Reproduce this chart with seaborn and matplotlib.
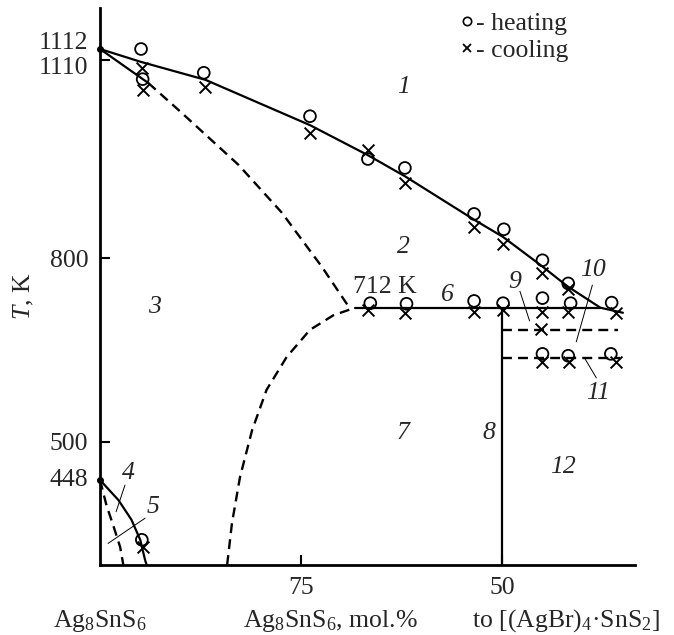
import numpy as np
import pandas as pd
import seaborn as sns
import matplotlib.pyplot as plt
from matplotlib.lines import Line2D

# x: mol.% Ag8SnS6 (100 at the left end), y: temperature, K
liq_comp = [100, 94.9, 86.9, 73.9, 66.7, 62.1, 53.5, 49.9, 45.1, 41.9, 37.8, 35.0]
liq_T = [1112, 1107, 1079, 1008, 961, 928, 860, 833, 786, 750, 712, 704]

sol_comp = [100, 94.0]
sol_T = [1112, 1074]
sol_dash_comp = [94.0, 90.0, 82.8, 77.4, 72.4, 69.0]
sol_dash_T = [1074, 1029, 946, 871, 784, 712]

dome_comp = [84.2, 83.6, 82.6, 81.1, 79.3, 76.8, 73.9, 71.0, 68.3]
dome_T = [330, 388, 452, 518, 582, 634, 677, 700, 712]

eut_comp = [68.3, 37.8]
eut_T = [712, 712]
comp_line = [50, 50]
comp_line_T = [330, 712]
tr1_comp = [50, 35.6]
tr1_T = [677, 677]
tr2_comp = [50, 35.3]
tr2_T = [632, 632]

low_comp = [100, 97.7, 96.1, 95.0, 94.4, 94.2]
low_T = [448, 420, 393, 365, 337, 330]
low_dash_comp = [100, 99.2, 98.3, 97.5, 97.1]
low_dash_T = [448, 413, 383, 355, 330]

special_comp = [100, 100]
special_T = [1112, 448]

heat_comp = [94.9, 94.7, 87.1, 73.9, 66.7, 62.1, 53.5, 49.8, 45.0, 41.8,
             66.4, 61.9, 53.5, 49.9, 45.0, 41.5, 36.4,
             45.0, 41.8, 36.5, 94.8]
heat_T = [1112, 1080, 1090, 1022, 955, 941, 869, 845, 796, 755,
          720, 719, 724, 720, 729, 720, 721,
          639, 636, 639, 365]
cool_comp = [94.8, 94.7, 86.9, 73.9, 66.7, 62.1, 53.5, 49.9, 45.0, 41.8,
             66.7, 62.1, 53.5, 49.9, 45.0, 41.8, 35.9,
             45.2, 45.0, 41.7, 35.9, 94.7]
cool_T = [1097, 1063, 1068, 995, 969, 917, 849, 822, 773, 746,
          708, 704, 705, 709, 706, 706, 703,
          678, 626, 626, 626, 355]

# the figure's temperature axis is schematic: piecewise linear between labelled values
scale_T = [0, 330, 448, 500, 712, 800, 1110, 1112, 1180, 3000]
scale_u = [-238, 0, 85, 123.3, 257.3, 307, 505, 516, 557, 1654]


def fwd(t):
    return np.interp(t, scale_T, scale_u)


def inv(u):
    return np.interp(u, scale_u, scale_T)


sns.set_style("white")
plt.rcParams['font.family'] = ['Liberation Serif', 'DejaVu Serif']
plt.rcParams['mathtext.fontset'] = 'custom'
plt.rcParams['mathtext.rm'] = 'Liberation Serif'
plt.rcParams['mathtext.it'] = 'Liberation Serif:italic'
FS = 18.5

fig, ax = plt.subplots(figsize=(6.74, 6.35), dpi=100)
fig.subplots_adjust(left=0.1484, right=0.9421, bottom=0.1102, top=0.9874)
ax.set_yscale('function', functions=(fwd, inv))

solid = dict(color='k', lw=1.6, ax=ax, sort=False, estimator=None)
dashed = dict(color='k', lw=1.7, ax=ax, sort=False, estimator=None, linestyle=(0, (4.2, 2.6)))

sns.lineplot(x=liq_comp, y=liq_T, **solid)
sns.lineplot(x=sol_comp, y=sol_T, **solid)
sns.lineplot(x=sol_dash_comp, y=sol_dash_T, **dashed)
sns.lineplot(x=dome_comp, y=dome_T, **dashed)
sns.lineplot(x=eut_comp, y=eut_T, **solid)
sns.lineplot(x=comp_line, y=comp_line_T, **solid)
sns.lineplot(x=tr1_comp, y=tr1_T, **dashed)
sns.lineplot(x=tr2_comp, y=tr2_T, **dashed)
sns.lineplot(x=low_comp, y=low_T, **solid)
sns.lineplot(x=low_dash_comp, y=low_dash_T, **dashed)

ax.plot(special_comp, special_T, 'o', color='k', ms=4, clip_on=False)

sns.scatterplot(x=heat_comp, y=heat_T, marker='o', s=72, facecolors='none',
                edgecolor='k', linewidth=1.3, ax=ax, zorder=3)
sns.scatterplot(x=cool_comp, y=cool_T, marker='x', s=72, color='k',
                linewidth=1.4, ax=ax, zorder=3)

# leader lines for the small regions
for (x0, y0), (x1, y1) in [((96.9, 441), (98.0, 404)), ((94.4, 395), (99.0, 360)),
                           ((47.8, 741), (46.6, 691)), ((38.8, 752), (40.8, 658)),
                           ((38.3, 601), (39.8, 633))]:
    ax.plot([x0, x1], [y0, y1], color='k', lw=0.7)

regions = [('1', 62.3, 1068), ('2', 62.3, 817), ('3', 93.2, 714), ('4', 96.5, 457),
           ('5', 93.4, 411), ('6', 56.8, 735), ('7', 62.3, 514), ('8', 51.6, 514),
           ('9', 48.4, 758), ('10', 38.7, 779), ('11', 38.1, 577), ('12', 42.5, 465)]
for s, x, y in regions:
    ax.text(x, y, s, style='italic', ha='center', va='center', fontsize=FS)
ax.text(64.6, 749, '712 K', ha='center', va='center', fontsize=FS)

ax.set_xlim(100, 33.5)
ax.set_ylim(330, 1180)
ax.set_xticks([75, 50])
ax.set_xticklabels(['75', '50'])
ax.set_yticks([500, 800, 1110])
ax.set_yticklabels(['500', '800', ''])
ax.tick_params(bottom=True, left=True, direction='in', length=7, width=1.5,
               color='k', labelsize=FS, pad=8.5)

for s, y, dy in [('1112', 1112, 6), ('1110', 1110, -8), ('448', 448, 0)]:
    ax.annotate(s, xy=(0, y), xycoords=('axes fraction', 'data'), xytext=(-12, dy),
                textcoords='offset pixels', ha='right', va='center', fontsize=FS)

sns.despine(ax=ax)
for side in ['left', 'bottom']:
    ax.spines[side].set_linewidth(2)
    ax.spines[side].set_color('k')

ax.set_ylabel(r'$T$, K', fontsize=FS)
ax.yaxis.set_label_coords(-0.12, 0.483)
ax.set_xlabel('')

ax.text(0.0, -0.111, r'Ag$_8$SnS$_6$', transform=ax.transAxes, ha='center', va='baseline', fontsize=FS)
ax.text(0.43, -0.111, r'Ag$_8$SnS$_6$, mol.%', transform=ax.transAxes, ha='center', va='baseline', fontsize=FS)
ax.text(0.871, -0.111, r'to [(AgBr)$_4$·SnS$_2$]', transform=ax.transAxes, ha='center', va='baseline', fontsize=FS)

handles = [Line2D([], [], ls='', marker='o', ms=6, mfc='none', mec='k', mew=1.2),
           Line2D([], [], ls='', marker='x', ms=6, color='k', mew=1.3)]
ax.legend(handles, ['- heating', '- cooling'], loc='upper left', bbox_to_anchor=(0.676, 0.992),
          frameon=False, handlelength=0.4, handletextpad=0.15, labelspacing=0.13,
          borderpad=0, borderaxespad=0, fontsize=FS)

fig.savefig('out.png', dpi=100)
